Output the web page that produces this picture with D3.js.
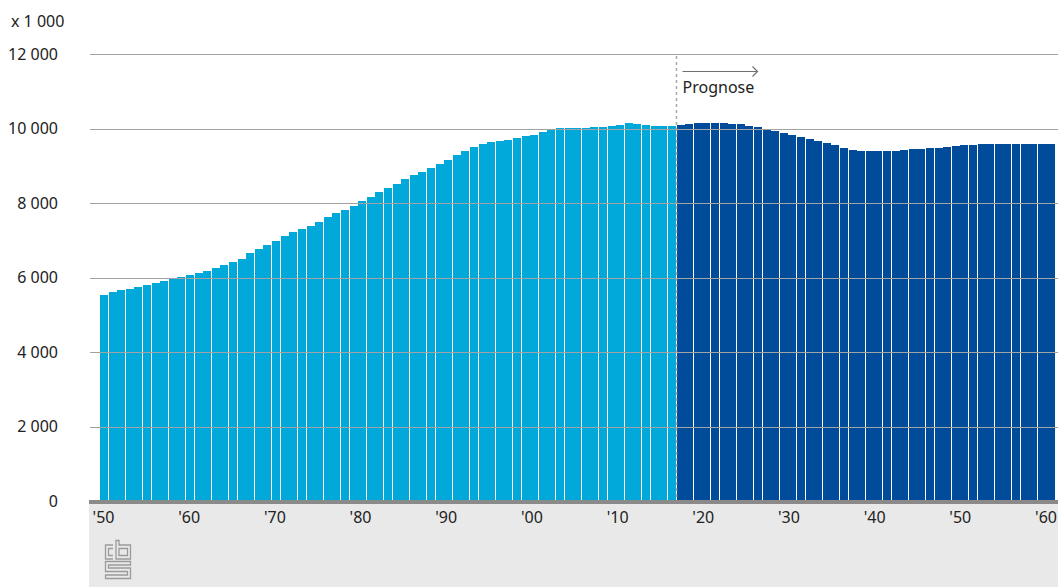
<!DOCTYPE html>
<html>
<head>
<meta charset="utf-8">
<script src="https://cdn.jsdelivr.net/npm/d3@7"></script>
<style>
  html, body { margin: 0; padding: 0; background: #fff; }
  svg { display: block; font-family: "Noto Sans", sans-serif; }
</style>
</head>
<body>
<svg id="chart" width="1058" height="587"></svg>
<script>
// ---- data (x 1 000) ----
const years = d3.range(1950, 2061);
const historicValues = [
  5531, 5611, 5665, 5692, 5745, 5799, 5853, 5906, 5960, 6013,
  6067, 6121, 6175, 6255, 6336, 6416, 6497, 6658, 6765, 6873,
  6980, 7114, 7222, 7302, 7383, 7490, 7624, 7732, 7812, 7920,
  8054, 8161, 8295, 8403, 8510, 8644, 8752, 8832, 8940, 9047,
  9155, 9289, 9396, 9504, 9584, 9638, 9665, 9692, 9745, 9799,
  9826, 9906, 9960, 10014, 10014, 10014, 10014, 10040, 10040, 10067,
  10094, 10148, 10121, 10094, 10067, 10067, 10067
];
const forecastValues = [
  10094, 10121, 10148, 10148, 10148, 10148, 10121, 10121, 10067, 10040,
  9987, 9933, 9879, 9826, 9772, 9718, 9665, 9611, 9557, 9477,
  9432, 9405, 9405, 9405, 9405, 9405, 9432, 9459, 9459, 9486,
  9486, 9512, 9539, 9566, 9566, 9593, 9593, 9593, 9593, 9593,
  9593, 9593, 9593, 9593
];
const values = historicValues.concat(forecastValues);
const forecastStart = 2017;
const yTicks = [0, 2000, 4000, 6000, 8000, 10000, 12000];
const xTickYears = [1950, 1960, 1970, 1980, 1990, 2000, 2010, 2020, 2030, 2040, 2050, 2060];
const xTickLabels = ["'50", "'60", "'70", "'80", "'90", "'00", "'10", "'20", "'30", "'40", "'50", "'60"];
const unitLabel = "x 1 000";
const forecastLabel = "Prognose";

const data = years.map((y, i) => ({ year: y, value: values[i] }));

// ---- layout ----
const svg = d3.select("#chart");
const fmt = v => d3.format(",")(v).replace(/,/g, " ");

const x = d3.scaleBand().domain(years).range([100, 1054.5]).paddingInner(0.07).paddingOuter(0);
const xLabel = d3.scaleLinear().domain([1950, 2060]).range([103.5, 1046]);
const y = d3.scaleLinear().domain([0, 12000]).range([501, 54]);

// bottom panel
svg.append("rect").attr("x", 89).attr("y", 502).attr("width", 1058 - 89).attr("height", 587 - 502)
  .attr("fill", "#e9e9e9");

// bars
svg.append("g").selectAll("rect").data(data).join("rect")
  .attr("x", d => x(d.year))
  .attr("width", x.bandwidth())
  .attr("y", d => y(d.value))
  .attr("height", d => y(0) - y(d.value))
  .attr("shape-rendering", "crispEdges")
  .attr("fill", d => d.year >= forecastStart ? "#004c9b" : "#00a9d9");

// gridlines (drawn over bars)
svg.append("g").selectAll("line").data(yTicks.filter(t => t > 0)).join("line")
  .attr("x1", 90).attr("x2", 1058)
  .attr("y1", d => Math.round(y(d)) + 0.5).attr("y2", d => Math.round(y(d)) + 0.5)
  .attr("stroke", "#a3a3a3").attr("stroke-width", 1.2);

// baseline
svg.append("rect").attr("x", 89).attr("y", 500).attr("width", 1058 - 89).attr("height", 4)
  .attr("fill", "#8a8a8a");

// y labels
svg.append("g").selectAll("text").data(yTicks).join("text")
  .attr("x", 58).attr("y", d => y(d))
  .attr("dy", "0.36em")
  .attr("text-anchor", "end")
  .attr("font-size", 16).attr("fill", "#222")
  .text(d => fmt(d));

svg.append("text").attr("x", 11).attr("y", 27).attr("font-size", 16).attr("fill", "#222").text(unitLabel);

// x labels
svg.append("g").selectAll("text").data(xTickYears).join("text")
  .attr("x", d => xLabel(d))
  .attr("y", 523)
  .attr("text-anchor", "middle")
  .attr("font-size", 16).attr("fill", "#222")
  .text((d, i) => xTickLabels[i]);

// forecast divider
const fx = Math.round(x(forecastStart)) - 0.5;
svg.append("line").attr("x1", fx).attr("x2", fx).attr("y1", 56).attr("y2", 500)
  .attr("stroke", "#a8a8a8").attr("stroke-width", 1.5).attr("stroke-dasharray", "3,3");

// arrow
const ax0 = fx + 6, ax1 = ax0 + 75, ay = 71.5;
svg.append("line").attr("x1", ax0).attr("x2", ax1).attr("y1", ay).attr("y2", ay)
  .attr("stroke", "#707070").attr("stroke-width", 1.2);
svg.append("path").attr("d", `M${ax1 - 5},${ay - 5} L${ax1},${ay} L${ax1 - 5},${ay + 5}`)
  .attr("fill", "none").attr("stroke", "#707070").attr("stroke-width", 1.2);
svg.append("text").attr("x", ax0).attr("y", 93).attr("font-size", 16).attr("fill", "#222").text(forecastLabel);

// cbs logo (simplified)
const logo = svg.append("g").attr("transform", "translate(105,540)")
  .attr("fill", "none").attr("stroke", "#9a9a9a").attr("stroke-width", 1.3);
logo.append("path").attr("d", "M8,5 H0.5 V19 H8 M8,8.5 H3.5 V15.5 H8");
logo.append("path").attr("d", "M11,0.5 H14 V5 H25.5 V19 H11 Z M14,8.5 V15.5 H22.5 V8.5 Z");
logo.append("path").attr("d", "M0.5,21.5 H25.5 V25 H3.5 V28 H25.5 V38.5 H0.5 V35 H22.5 V31.5 H0.5 Z");
</script>
</body>
</html>
